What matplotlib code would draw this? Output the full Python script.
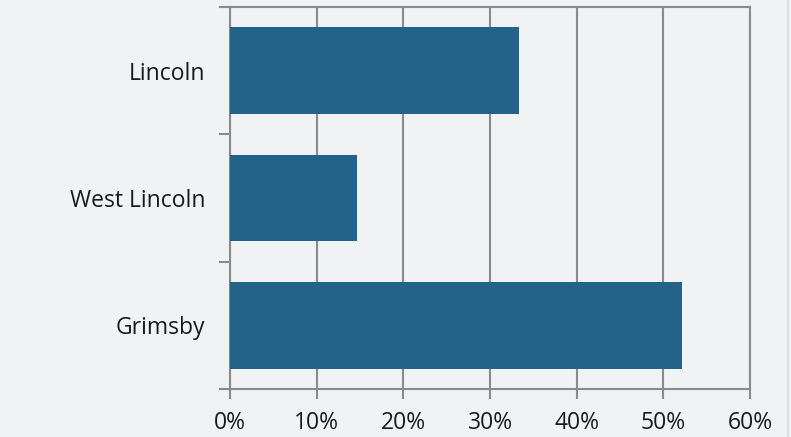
import matplotlib.pyplot as plt
from matplotlib.lines import Line2D
from matplotlib.ticker import FixedLocator, PercentFormatter

towns = ["Grimsby", "West Lincoln", "Lincoln"]
shares = [52.2, 14.6, 33.4]
x_ticks = [0, 10, 20, 30, 40, 50, 60]

bg = "#f1f2f4"
bar_color = "#236289"
line_color = "#8a8a8a"
text_color = "#1a1a1a"

plt.rcParams["font.family"] = ["Open Sans", "DejaVu Sans"]

fig = plt.figure(figsize=(7.91, 4.37), dpi=100, facecolor=bg)
ax = fig.add_axes([230 / 791, 1 - 389 / 437, 520 / 791, 382 / 437])
ax.set_facecolor(bg)

ax.barh(range(len(towns)), shares, height=0.68, color=bar_color, zorder=3)

ax.set_xlim(0, 60)
ax.set_ylim(-0.5, len(towns) - 0.5)
ax.set_xticks(x_ticks)
ax.xaxis.set_major_formatter(PercentFormatter(decimals=0))
ax.set_yticks(range(len(towns)))
ax.set_yticklabels(towns)
ax.yaxis.set_minor_locator(FixedLocator([i - 0.5 for i in range(len(towns) + 1)]))

ax.tick_params(axis="y", which="major", length=0, pad=18, labelsize=16.5, labelcolor=text_color)
ax.tick_params(axis="y", which="minor", length=8, width=1.5, color=line_color)
ax.tick_params(axis="x", length=7, width=1.5, color=line_color, pad=8.5,
               labelsize=16.5, labelcolor=text_color)

ax.grid(axis="x", color=line_color, linewidth=1.5, zorder=1)
for side in ax.spines.values():
    side.set_color(line_color)
    side.set_linewidth(1.5)

# faint frame edge on the right of the image
fig.add_artist(Line2D([787.5 / 791] * 2, [0, 1], transform=fig.transFigure,
                      color="#dcdde0", linewidth=1.5))

fig.savefig("out.png", dpi=100, facecolor=bg)
